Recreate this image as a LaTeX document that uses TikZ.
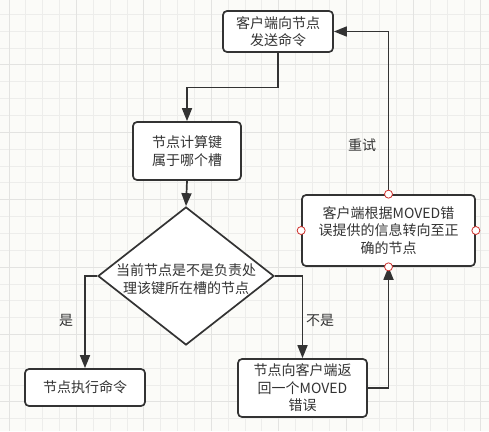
\documentclass[tikz,border=0pt]{standalone}
\usepackage{fontspec}
\setmainfont{Noto Sans CJK SC}
\usetikzlibrary{arrows.meta,shapes.geometric}
\definecolor{linegray}{HTML}{333333}
\definecolor{paper}{HTML}{FBFBF8}
\definecolor{gridminor}{HTML}{EDEDEB}
\definecolor{gridmajor}{HTML}{E3E3E1}
\definecolor{handlered}{HTML}{D0312D}

\begin{document}
\begin{tikzpicture}[x=1pt,y=-1pt,
  box/.style={draw=linegray, line width=1.7pt, rounded corners=4pt, fill=white,
    align=center, text=linegray, inner sep=0pt, font=\fontsize{14}{17.5}\selectfont},
  decision/.style={diamond, draw=linegray, line width=1.7pt, fill=white, inner sep=0pt,
    minimum width=176pt, minimum height=138pt},
  flow/.style={draw=linegray, line width=1.7pt, -{Triangle[length=13pt,width=10pt]}},
  tag/.style={text=linegray, font=\fontsize{14}{17.5}\selectfont},
  handle/.style={draw=handlered, line width=0.8pt, fill=white}]

  \useasboundingbox (0,0) rectangle (489,431);
  \fill[paper] (0,0) rectangle (489,431);

  %grid:
  \foreach \k in {0,...,28} {
    \pgfmathsetmacro\gx{9+16.85*\k}
    \draw[gridminor, line width=0.8pt] (\gx,0) -- (\gx,431);
  }
  \foreach \k in {0,...,24} {
    \pgfmathsetmacro\gy{14.3+16.85*\k}
    \draw[gridminor, line width=0.8pt] (0,\gy) -- (489,\gy);
  }
  \foreach \k in {0,4,...,28} {
    \pgfmathsetmacro\gx{9+16.85*\k}
    \draw[gridmajor, line width=1pt] (\gx,0) -- (\gx,431);
  }
  \foreach \k in {3,7,...,23} {
    \pgfmathsetmacro\gy{14.3+16.85*\k}
    \draw[gridmajor, line width=1pt] (0,\gy) -- (489,\gy);
  }

  %boxes:
  \node[box, minimum width=110pt, minimum height=41pt] (send) at (278,31.5) {客户端向节点\\发送命令};
  \node[box, minimum width=108pt, minimum height=58pt] (calc) at (187,151) {节点计算键\\属于哪个槽};
  \node[decision] (check) at (186,276) {};
  \node[tag, align=center] (checktext) at (186,279) {当前节点是不是负责处\\理该键所在槽的节点};
  \node[box, minimum width=120pt, minimum height=37pt] (exec) at (85,387.5) {节点执行命令};
  \node[box, minimum width=129pt, minimum height=58pt] (moved) at (302.5,388) {节点向客户端返\\回一个MOVED\\错误};
  \node[box, minimum width=173pt, minimum height=71pt] (retry) at (388.5,230.5) {客户端根据MOVED错\\误提供的信息转向至正\\确的节点};

  %arrows:
  \draw[flow] (send.south) -- ++(0,34.5) -| (calc.north);
  \draw[flow] (calc.south) -- (check.north);
  \draw[flow] (check.west) -| (exec.north);
  \draw[flow] (check.east) -| (moved.north);
  \draw[flow] (moved.east) -| (retry.south);
  \draw[flow] (retry.north) |- (send.east);

  %labels:
  \node[tag] (yes) at (66,320) {是};
  \node[tag] (no) at (320,320) {不是};
  \node[tag] (again) at (362,145) {重试};

  %selection handles:
  \foreach \a in {north,south,east,west}
    \draw[handle] (retry.\a) circle (4pt);
\end{tikzpicture}
\end{document}
